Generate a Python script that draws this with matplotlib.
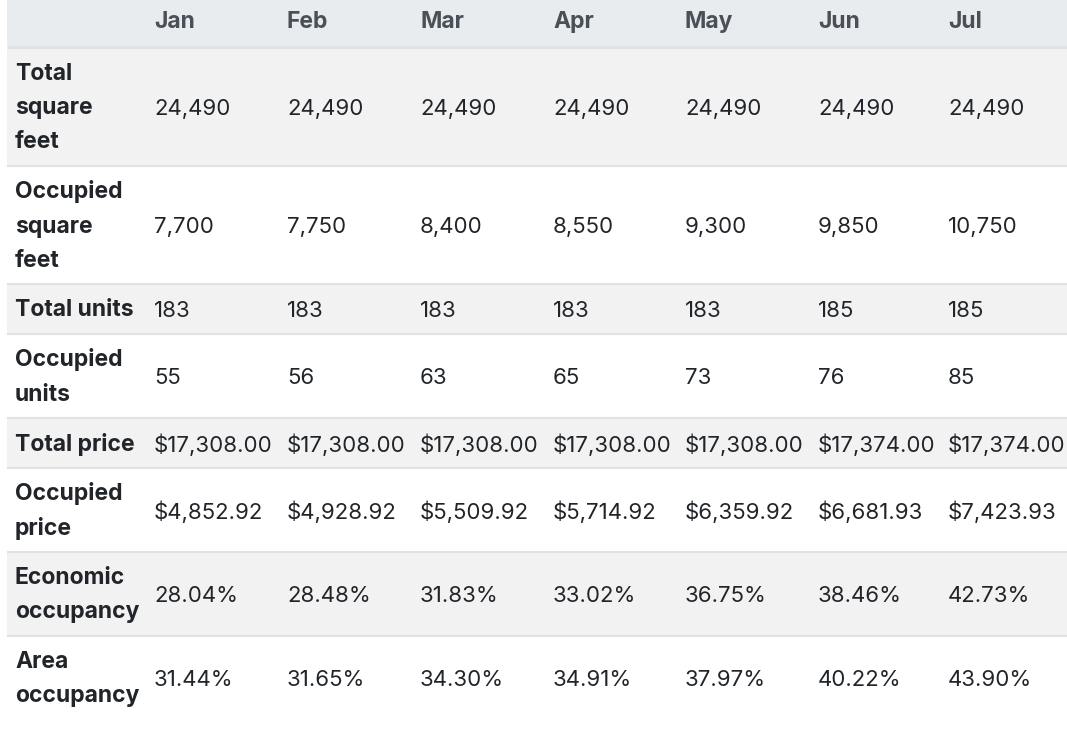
import matplotlib.pyplot as plt
from matplotlib.patches import Rectangle

plt.rcParams["font.family"] = ["Inter", "DejaVu Sans"]

months = ["Jan", "Feb", "Mar", "Apr", "May", "Jun", "Jul"]
row_labels = [
    "Total\nsquare\nfeet",
    "Occupied\nsquare\nfeet",
    "Total units",
    "Occupied\nunits",
    "Total price",
    "Occupied\nprice",
    "Economic\noccupancy",
    "Area\noccupancy",
]
total_sqft = [24490, 24490, 24490, 24490, 24490, 24490, 24490]
occupied_sqft = [7700, 7750, 8400, 8550, 9300, 9850, 10750]
total_units = [183, 183, 183, 183, 183, 185, 185]
occupied_units = [55, 56, 63, 65, 73, 76, 85]
total_price = [17308.00, 17308.00, 17308.00, 17308.00, 17308.00, 17374.00, 17374.00]
occupied_price = [4852.92, 4928.92, 5509.92, 5714.92, 6359.92, 6681.93, 7423.93]
economic_occ = [28.04, 28.48, 31.83, 33.02, 36.75, 38.46, 42.73]
area_occ = [31.44, 31.65, 34.30, 34.91, 37.97, 40.22, 43.90]

rows = [
    [f"{v:,}" for v in total_sqft],
    [f"{v:,}" for v in occupied_sqft],
    [f"{v}" for v in total_units],
    [f"{v}" for v in occupied_units],
    [f"${v:,.2f}" for v in total_price],
    [f"${v:,.2f}" for v in occupied_price],
    [f"{v:.2f}%" for v in economic_occ],
    [f"{v:.2f}%" for v in area_occ],
]

W, H = 1067, 737
fig = plt.figure(figsize=(W / 100, H / 100), dpi=100)
ax = fig.add_axes([0, 0, 1, 1])
ax.set_xlim(0, W)
ax.set_ylim(H, 0)
ax.axis("off")

left = 7
label_x = 15
col_x = [154, 287, 420, 553, 685, 818, 948]
fs_bold = 16.5
fs_val = 16
line_h = 34
text_col = "#212529"
border = "#dee2e6"

# header
ax.add_patch(Rectangle((left, 0), W - left, 46, color="#e9ecef", lw=0))
ax.plot([left, W], [46.5, 46.5], color=border, lw=2.2, solid_capstyle="butt")
for x, m in zip(col_x, months):
    ax.text(x, 22, m, fontsize=fs_bold, fontweight="bold", color="#495057",
            va="center", ha="left")

# body rows
y = 47.5
for i, (lab, vals) in enumerate(zip(row_labels, rows)):
    n = lab.count("\n") + 1
    h = 16 + line_h * n
    if i % 2 == 0:
        ax.add_patch(Rectangle((left, y), W - left, h, color="#f2f2f2", lw=0))
    yc = y + h / 2
    ax.text(label_x, yc + 1.5, lab, fontsize=fs_bold, fontweight="bold", color=text_col,
            va="center", ha="left", linespacing=1.72)
    for x, v in zip(col_x, vals):
        ax.text(x, yc + 2, v, fontsize=fs_val, color=text_col, va="center", ha="left")
    y += h
    if i < len(rows) - 1:
        ax.plot([left, W], [y, y], color=border, lw=1.5, solid_capstyle="butt")

fig.savefig("out.png", dpi=100)
